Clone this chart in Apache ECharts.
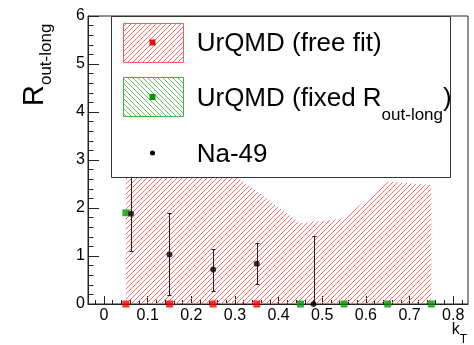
<!DOCTYPE html>
<html><head><meta charset="utf-8">
<script src="https://cdn.jsdelivr.net/npm/echarts@6/dist/echarts.min.js"></script>
<style>html,body{margin:0;padding:0;background:#fff}#c{width:474px;height:345px}</style>
</head><body><div id="c"></div>
<script>
// ---- data ----
const xTickValues = [0, 0.1, 0.2, 0.3, 0.4, 0.5, 0.6, 0.7, 0.8];
const xTickLabels = ['0', '0.1', '0.2', '0.3', '0.4', '0.5', '0.6', '0.7', '0.8'];
const yTickLabels = ['0', '1', '2', '3', '4', '5', '6'];
const freeFitX = [0.05, 0.15, 0.25, 0.35];
const freeFitY = [0, 0, 0, 0];
const fixedX = [0.05, 0.45, 0.55, 0.65, 0.75];
const fixedY = [1.9, 0, 0, 0, 0];
const bandX = [0.05, 0.15, 0.25, 0.35, 0.45, 0.55, 0.65, 0.75];
const bandUpper = [3.3, 3.2, 3.0, 2.35, 1.68, 1.78, 2.55, 2.48];
const na49X = [0.062, 0.15, 0.25, 0.35, 0.48];
const na49Y = [1.88, 1.03, 0.72, 0.84, 0.0];
const na49Low = [1.11, 0.18, 0.27, 0.41, 0.0];
const na49High = [3.0, 1.90, 1.14, 1.27, 1.41];
const legendLabels = ['UrQMD (free fit)', 'UrQMD (fixed R', 'out-long', ')', 'Na-49'];

// ---- helpers ----
const FONT = "'Liberation Sans', Arial, sans-serif";
function hatch(color, dir, size) {
  const c = document.createElement('canvas');
  c.width = size; c.height = size;
  const g = c.getContext('2d');
  g.fillStyle = color;
  for (let i = 0; i < size; i++) {
    if (dir === '/') g.fillRect(i, size - 1 - i, 1, 1);
    else g.fillRect(i, i, 1, 1);
  }
  return { image: c, repeat: 'repeat' };
}
const redHatch = hatch('#ff6a6a', '/', 5);
const greenHatch = hatch('#66c266', '\\', 5);

const minorTicks = [];
for (let k = -1; k <= 41; k++) minorTicks.push(Math.round(k * 2) / 100);

const chart = echarts.init(document.getElementById('c'), null, { renderer: 'canvas' });
const option = {
  animation: false,
  backgroundColor: '#fff',
  grid: { left: 88, top: 16, width: 380, height: 288, show: true, borderColor: '#222', borderWidth: 1, backgroundColor: 'transparent' },
  xAxis: [{
    type: 'value', min: -0.0367, max: 0.834, position: 'bottom',
    axisLine: { show: true, onZero: false, lineStyle: { color: '#222', width: 1 } },
    axisTick: { show: true, inside: true, length: 8, customValues: xTickValues, lineStyle: { color: '#222' } },
    axisLabel: { show: true, customValues: xTickValues, margin: 4, fontSize: 16, fontFamily: FONT, color: '#000',
      formatter: v => xTickLabels[xTickValues.findIndex(t => Math.abs(t - v) < 1e-6)] },
    splitLine: { show: false }
  }, {
    type: 'value', min: -0.0367, max: 0.834, position: 'bottom', offset: 0,
    axisLine: { show: false, onZero: false },
    axisTick: { show: true, inside: true, length: 4, customValues: minorTicks, lineStyle: { color: '#222' } },
    axisLabel: { show: false },
    splitLine: { show: false }
  }],
  yAxis: {
    type: 'value', min: 0, max: 6, interval: 1,
    axisLine: { show: true, onZero: false, lineStyle: { color: '#222', width: 1 } },
    axisTick: { show: true, inside: true, length: 11, lineStyle: { color: '#222' } },
    minorTick: { show: true, splitNumber: 5, length: 5.5, lineStyle: { color: '#222' } },
    axisLabel: { margin: 3, fontSize: 16, fontFamily: FONT, color: '#000', formatter: v => yTickLabels[Math.round(v)] },
    splitLine: { show: false }, minorSplitLine: { show: false }
  },
  series: [
    {
      type: 'line', z: 1, symbol: 'none', silent: true,
      data: bandX.map((x, i) => [x, bandUpper[i]]),
      lineStyle: { width: 0, opacity: 0 },
      areaStyle: { color: redHatch, opacity: 1 }
    },
    {
      type: 'custom', z: 3, silent: true,
      data: na49X.map((x, i) => [x, na49Low[i], na49High[i]]),
      encode: { x: 0, y: [1, 2] },
      renderItem: function (params, api) {
        const x = api.value(0), lo = api.value(1), hi = api.value(2);
        const p1 = api.coord([x, lo]), p2 = api.coord([x, hi]);
        const px = Math.round(p1[0]) + 0.5;
        const st = { stroke: '#222', lineWidth: 1 };
        const y1 = Math.round(p1[1]) + 0.5, y2 = Math.round(p2[1]) + 0.5;
        return { type: 'group', children: [
          { type: 'line', shape: { x1: px, y1: y1, x2: px, y2: y2 }, style: st },
          { type: 'line', shape: { x1: px - 2, y1: y1, x2: px + 2, y2: y1 }, style: st },
          { type: 'line', shape: { x1: px - 2, y1: y2, x2: px + 2, y2: y2 }, style: st }
        ] };
      }
    },
    { type: 'scatter', z: 4, symbol: 'rect', symbolSize: 7, itemStyle: { color: '#009900' },
      data: fixedX.map((x, i) => [x, fixedY[i]]) },
    { type: 'scatter', z: 4, symbol: 'rect', symbolSize: 7, itemStyle: { color: '#ff0000' },
      data: freeFitX.map((x, i) => [x, freeFitY[i]]) },
    { type: 'scatter', z: 5, symbol: 'circle', symbolSize: 6, itemStyle: { color: '#000' },
      data: na49X.map((x, i) => [x, na49Y[i]]) }
  ],
  graphic: [
    // legend box
    { type: 'rect', z: 100, shape: { x: 111.5, y: 16.5, width: 339, height: 161 }, style: { fill: '#fff', stroke: '#333', lineWidth: 1 } },
    { type: 'rect', z: 101, shape: { x: 123.5, y: 23.5, width: 60, height: 39 }, style: { fill: redHatch, stroke: '#ff5a5a', lineWidth: 1 } },
    { type: 'rect', z: 102, shape: { x: 149.5, y: 39.5, width: 6, height: 6 }, style: { fill: '#ff0000' } },
    { type: 'rect', z: 101, shape: { x: 123.5, y: 77.5, width: 60, height: 39 }, style: { fill: greenHatch, stroke: '#44b044', lineWidth: 1 } },
    { type: 'rect', z: 102, shape: { x: 149.5, y: 94, width: 6, height: 6 }, style: { fill: '#009900' } },
    { type: 'circle', z: 102, shape: { cx: 152.5, cy: 153, r: 2.5 }, style: { fill: '#000' } },
    { type: 'text', z: 102, x: 196.7, y: 43.5, style: { text: legendLabels[0], fontSize: 26, fontFamily: FONT, fill: '#000', align: 'left', verticalAlign: 'middle' } },
    { type: 'text', z: 102, x: 196.7, y: 86, style: {
        text: '{a|' + legendLabels[1] + '}{s|' + legendLabels[2] + '}{a|' + legendLabels[3] + '}',
        fontFamily: FONT, fill: '#000', align: 'left', verticalAlign: 'top',
        rich: {
          a: { fontSize: 26, lineHeight: 26, fontFamily: FONT, fill: '#000', verticalAlign: 'top' },
          s: { fontSize: 17, lineHeight: 17, fontFamily: FONT, fill: '#000', verticalAlign: 'top', padding: [21, 0, 0, 0] }
        } } },
    { type: 'text', z: 102, x: 196.7, y: 155, style: { text: legendLabels[4], fontSize: 26, fontFamily: FONT, fill: '#000', align: 'left', verticalAlign: 'middle' } },
    // y axis title
    { type: 'text', z: 50, x: 20.5, y: 106, rotation: Math.PI / 2, style: {
        text: '{r|R}{s|out-long}', fontFamily: FONT, fill: '#000', align: 'left', verticalAlign: 'top',
        rich: {
          r: { fontSize: 29, lineHeight: 29, fontFamily: FONT, fill: '#000', verticalAlign: 'top' },
          s: { fontSize: 17, lineHeight: 17, fontFamily: FONT, fill: '#000', verticalAlign: 'top', padding: [17, 0, 0, 0] }
        } } },
    // x axis title
    { type: 'text', z: 50, x: 467, y: 321.5, style: {
        text: '{k|k}{t|T}', fontFamily: FONT, fill: '#000', align: 'right', verticalAlign: 'top',
        rich: {
          k: { fontSize: 16, lineHeight: 16, fontFamily: FONT, fill: '#000', verticalAlign: 'top' },
          t: { fontSize: 12, lineHeight: 12, fontFamily: FONT, fill: '#000', verticalAlign: 'top', padding: [12, 0, 0, 0] }
        } } }
  ]
};
chart.setOption(option);
</script></body></html>
